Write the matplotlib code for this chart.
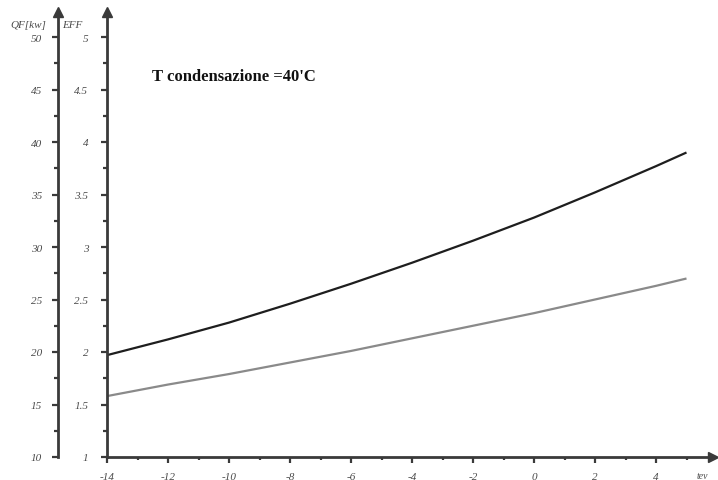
import matplotlib
matplotlib.use("Agg")
import matplotlib.pyplot as plt
from matplotlib.ticker import MultipleLocator

# Data (EFF scale; QF = 10 * EFF)
t_ev = [-14, -12, -10, -8, -6, -4, -2, 0, 2, 4, 5]
eff_black = [1.97, 2.12, 2.28, 2.46, 2.65, 2.85, 3.06, 3.28, 3.52, 3.77, 3.90]
eff_gray = [1.58, 1.69, 1.79, 1.90, 2.01, 2.13, 2.25, 2.37, 2.50, 2.63, 2.70]
x_ticks = [-14, -12, -10, -8, -6, -4, -2, 0, 2, 4]
eff_ticks = [1, 1.5, 2, 2.5, 3, 3.5, 4, 4.5, 5]
qf_ticks = [10, 15, 20, 25, 30, 35, 40, 45, 50]

W, H = 718, 481
fig = plt.figure(figsize=(W / 100, H / 100), dpi=100)
x0, x1 = 107, 713
y0, y1 = 458, 13
ax = fig.add_axes([x0 / W, (H - y0) / H, (x1 - x0) / W, (y0 - y1) / H])

xmax = -14 + (x1 - x0) / 30.5
ymax = 1 + (y0 - y1) / 105
ax.set_xlim(-14, xmax)
ax.set_ylim(1, ymax)

ax.plot(t_ev, eff_black, color="#1e1e1e", lw=1.6, solid_capstyle="butt")
ax.plot(t_ev, eff_gray, color="#8a8a8a", lw=1.6, solid_capstyle="butt")

spc = "#3a3a3a"
for s in ["top", "right"]:
    ax.spines[s].set_visible(False)
for s in ["left", "bottom"]:
    ax.spines[s].set_color(spc)
    ax.spines[s].set_linewidth(2)

lab_font = dict(family="Liberation Serif", style="italic", size=8, color="#4a4a4a")

ax.set_xticks(x_ticks)
ax.set_xticklabels([str(v) for v in x_ticks], fontdict=lab_font)
ax.xaxis.set_minor_locator(MultipleLocator(1))
ax.set_yticks(eff_ticks)
ax.set_yticklabels([f"{v:g}" for v in eff_ticks], fontdict=lab_font)
ax.yaxis.set_minor_locator(MultipleLocator(0.25))
ax.tick_params(axis="x", which="major", direction="out", length=4.5, width=1.6, color=spc, pad=6)
ax.tick_params(axis="x", which="minor", direction="out", length=2.5, width=1.6, color=spc)
ax.tick_params(axis="y", which="major", direction="out", length=4.5, width=1.6, color=spc, pad=9)
ax.tick_params(axis="y", which="minor", direction="out", length=3, width=1.6, color=spc)

# Secondary QF axis
loc = (58 - x0) / (x1 - x0)
sec = ax.secondary_yaxis(loc, functions=(lambda y: y * 10, lambda q: q / 10))
sec.set_yticks(qf_ticks)
sec.set_yticklabels([str(v) for v in qf_ticks], fontdict=lab_font)
sec.yaxis.set_minor_locator(MultipleLocator(2.5))
sec.spines["left"].set_color(spc)
sec.spines["left"].set_linewidth(2)
sec.tick_params(axis="y", which="major", direction="out", length=4.5, width=1.6, color=spc, pad=7)
sec.tick_params(axis="y", which="minor", direction="out", length=3, width=1.6, color=spc)

# Arrowheads
ax.plot([0], [1], marker="^", ms=7, color=spc, transform=ax.transAxes, clip_on=False)
ax.plot([loc], [1], marker="^", ms=7, color=spc, transform=ax.transAxes, clip_on=False)
ax.plot([1], [0], marker=">", ms=7, color=spc, transform=ax.transAxes, clip_on=False)

# Axis labels
fig.text(10 / W, 1 - 26 / H, "QF[kw]", ha="left", va="center", **lab_font)
fig.text(62 / W, 1 - 26 / H, "EFF", ha="left", va="center", **lab_font)
fig.text(702 / W, 1 - 477 / H, "tev", ha="center", va="center",
         family="Liberation Serif", style="italic", size=7, color="#4a4a4a")

fig.text(152 / W, 1 - 77 / H, "T condensazione =40'C", ha="left", va="center",
         family="Liberation Serif", weight="bold", size=12, color="#111111")

fig.savefig("out.png", dpi=100)
